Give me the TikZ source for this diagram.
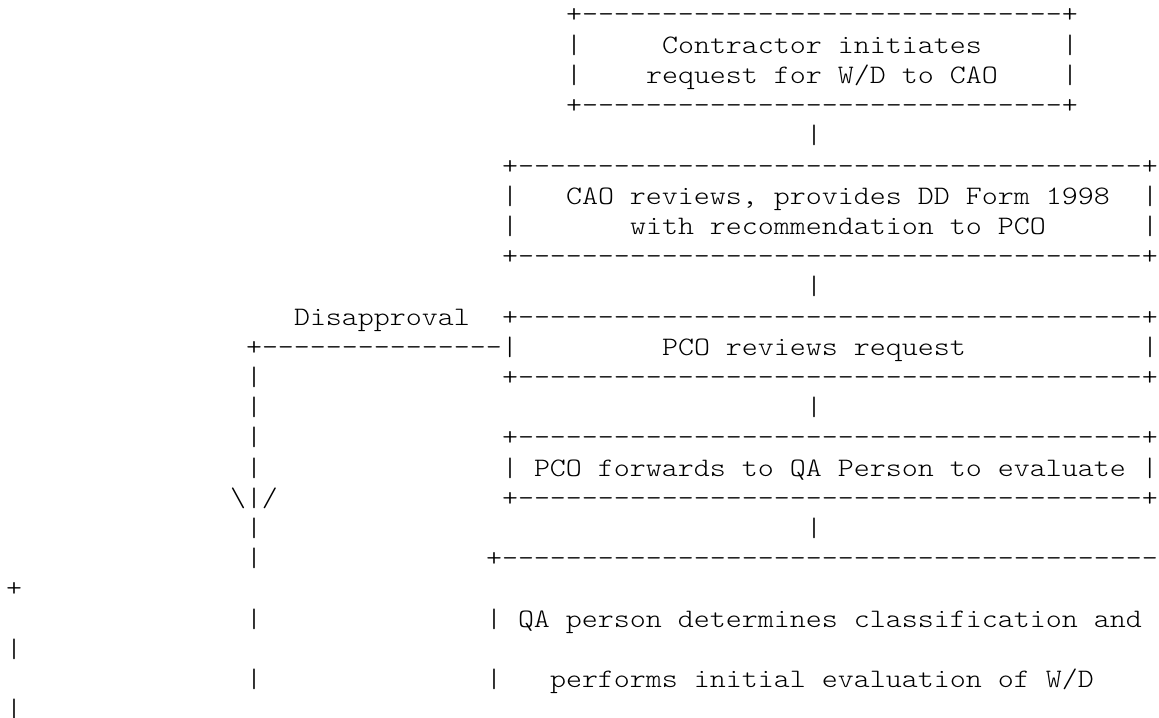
\documentclass[tikz,border=0pt]{standalone}
\usepackage{fontspec}
\newfontfamily\asciifont{lmmonolt10-regular.otf}[FakeStretch=1.142857,Ligatures=TeXOff]
\newcommand\dashes[1]{\foreach \i in {1,...,#1}{-}}

\begin{document}
\begin{tikzpicture}[x=8pt,y=-15.1pt,
  ascii/.style={anchor=base west,inner sep=0pt,outer sep=0pt,
    font=\asciifont\fontsize{13.33pt}{15.1pt}\selectfont\frenchspacing}]

\useasboundingbox (0,0) rectangle (579.5pt,-358.5pt);

\begin{scope}[shift={(3pt,3.6pt)}]
% contractor request
\node[ascii] (reqTop) at (35,1) {+\dashes{30}+};
\foreach \r in {2,3} {
  \node[ascii] (reqL\r) at (35,\r) {|};
  \node[ascii] (reqR\r) at (66,\r) {|};
}
\node[ascii] (reqText1) at (41,2) {Contractor initiates};
\node[ascii] (reqText2) at (40,3) {request for W/D to CAO};
\node[ascii] (reqBot) at (35,4) {+\dashes{30}+};

% CAO, PCO and forwarding boxes
\foreach \r in {6,9,11,13,15,17}
  \node[ascii] (rule\r) at (31,\r) {+\dashes{39}+};
\foreach \r in {7,8} {
  \node[ascii] (caoL\r) at (31,\r) {|};
  \node[ascii] (caoR\r) at (71,\r) {|};
}
\node[ascii] (caoText1) at (35,7) {CAO reviews, provides DD Form 1998};
\node[ascii] (caoText2) at (39,8) {with recommendation to PCO};
\node[ascii] (pcoText) at (41,12) {PCO reviews request};
\node[ascii] (pcoR) at (71,12) {|};
\node[ascii] (fwdText) at (31,16) {| PCO forwards to QA Person to evaluate |};

% QA box, wrapped at 72 columns
\node[ascii] (qaTop) at (30,19) {+\dashes{41}};
\node[ascii] (qaText1) at (30,21) {| QA person determines classification and};
\node[ascii] (qaL) at (30,23) {|};
\node[ascii] (qaText2) at (34,23) {performs initial evaluation of W/D};
\foreach \r/\c in {20/+,22/|,24/|}
  \node[ascii] (wrap\r) at (0,\r) {\c};

% links between boxes
\foreach \r in {5,10,14,18}
  \node[ascii] (link\r) at (50,\r) {|};

% disapproval branch
\node[ascii] (disLabel) at (18,11) {Disapproval};
\node[ascii] (disRule) at (15,12) {+\dashes{15}|};
\foreach \r in {13,...,16,18,19,21,23}
  \node[ascii] (disBar\r) at (15,\r) {|};
\node[ascii] (disArrow) at (14,17) {\textbackslash|/};
\end{scope}
\end{tikzpicture}
\end{document}
